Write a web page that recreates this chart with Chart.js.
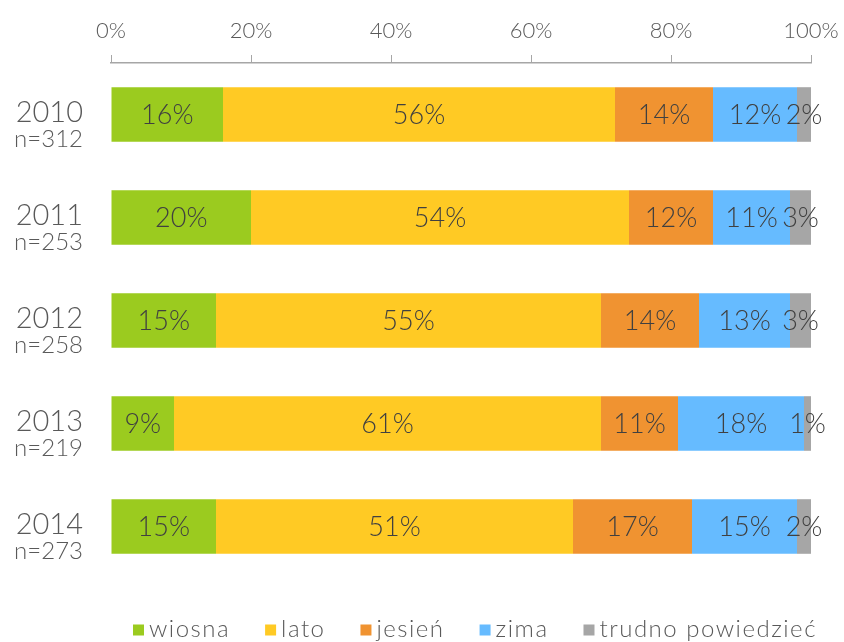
<!DOCTYPE html>
<html>
<head>
<meta charset="utf-8">
<script src="https://cdn.jsdelivr.net/npm/chart.js@4"></script>
<style>
  html, body { margin: 0; padding: 0; background: #fff; }
  #wrap { width: 844px; height: 642px; }
</style>
</head>
<body>
<div id="wrap"><canvas id="seasonChart" width="844" height="642"></canvas></div>
<script>
const years = ['2010', '2011', '2012', '2013', '2014'];
const sampleSizes = ['n=312', 'n=253', 'n=258', 'n=219', 'n=273'];

const wiosna = [16, 20, 15, 9, 15];
const lato = [56, 54, 55, 61, 51];
const jesien = [14, 12, 14, 11, 17];
const zima = [12, 11, 13, 18, 15];
const trudno = [2, 3, 3, 1, 2];

const xTicks = [0, 20, 40, 60, 80, 100];

const FONT = 'Lato, "Open Sans", sans-serif';
const textGrey = '#595959';

// etykiety w środku segmentów
const barLabels = {
  id: 'barLabels',
  afterDatasetsDraw(chart) {
    const ctx = chart.ctx;
    ctx.save();
    ctx.font = '300 27px ' + FONT;
    ctx.fillStyle = '#404040';
    ctx.textAlign = 'center';
    ctx.textBaseline = 'middle';
    chart.data.datasets.forEach((ds, i) => {
      const meta = chart.getDatasetMeta(i);
      meta.data.forEach((bar, j) => {
        const cx = (bar.x + bar.base) / 2;
        ctx.fillText(ds.data[j] + '%', cx, bar.y + 1);
      });
    });
    ctx.restore();
  }
};

// rok + liczebność po lewej
const yearLabels = {
  id: 'yearLabels',
  afterDraw(chart) {
    const ctx = chart.ctx;
    const yScale = chart.scales.y;
    ctx.save();
    ctx.textAlign = 'right';
    ctx.textBaseline = 'middle';
    ctx.fillStyle = textGrey;
    years.forEach((yr, i) => {
      const y = yScale.getPixelForValue(i);
      ctx.font = '300 29px ' + FONT;
      ctx.fillText(yr, 83, y - 2);
      ctx.font = '300 24px ' + FONT;
      ctx.fillText(sampleSizes[i], 83, y + 25);
    });
    ctx.restore();
  }
};

// legenda pod wykresem (kwadrat + nazwa serii)
const bottomLegend = {
  id: 'bottomLegend',
  afterDraw(chart) {
    const ctx = chart.ctx;
    ctx.save();
    ctx.font = '300 24px ' + FONT;
    ctx.letterSpacing = '1.5px';
    ctx.textBaseline = 'middle';
    ctx.textAlign = 'left';
    const box = 11, gapText = 5, gapItem = 35;
    const y = chart.chartArea.bottom + 52;
    let x = chart.chartArea.left + 22;
    chart.data.datasets.forEach((ds) => {
      ctx.fillStyle = ds.backgroundColor;
      ctx.fillRect(x, y - box / 2, box, box);
      x += box + gapText;
      ctx.fillStyle = textGrey;
      ctx.fillText(ds.label, x, y - 1);
      x += ctx.measureText(ds.label).width + gapItem;
    });
    ctx.restore();
  }
};

new Chart(document.getElementById('seasonChart'), {
  type: 'bar',
  data: {
    labels: years,
    datasets: [
      { label: 'wiosna', data: wiosna, backgroundColor: '#9BCB1F' },
      { label: 'lato', data: lato, backgroundColor: '#FFCA24' },
      { label: 'jesień', data: jesien, backgroundColor: '#F09331' },
      { label: 'zima', data: zima, backgroundColor: '#66BBFF' },
      { label: 'trudno powiedzieć', data: trudno, backgroundColor: '#A6A6A6' }
    ]
  },
  options: {
    indexAxis: 'y',
    responsive: false,
    animation: false,
    layout: { padding: { left: 111, right: 33, top: 0, bottom: 64 } },
    datasets: { bar: { barPercentage: 0.53, categoryPercentage: 1.0 } },
    scales: {
      x: {
        position: 'top',
        stacked: true,
        min: 0,
        max: 100,
        afterBuildTicks: (axis) => { axis.ticks = xTicks.map(v => ({ value: v })); },
        afterFit: (axis) => {
          axis.height = 63;
          axis.paddingLeft = 0;
          axis.paddingRight = 0;
        },
        grid: { drawOnChartArea: false, color: '#A6A6A6', tickLength: 8 },
        border: { color: '#A6A6A6', width: 1.5 },
        ticks: {
          callback: (v) => v + '%',
          color: textGrey,
          font: { family: FONT, size: 22, weight: '300' },
          padding: 11,
          maxRotation: 0
        }
      },
      y: {
        stacked: true,
        display: false
      }
    },
    plugins: {
      tooltip: { enabled: false },
      legend: { display: false }
    }
  },
  plugins: [barLabels, yearLabels, bottomLegend]
});
</script>
</body>
</html>
